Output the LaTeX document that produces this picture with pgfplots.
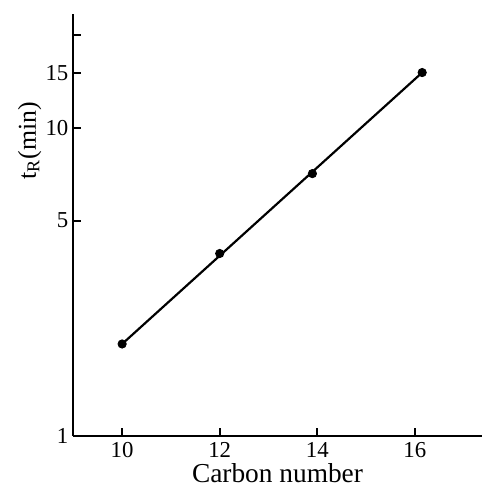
\documentclass[border=0pt]{standalone}
\usepackage{pgfplots}
\pgfplotsset{compat=1.18}
\usepackage{fontspec}
\setmainfont{Liberation Serif}
\begin{document}
\fontsize{11.5}{13}\selectfont
\begin{tikzpicture}
\begin{axis}[
  name=ax,
  scale only axis,
  width=206pt, height=213pt,
  ymode=log,
  xmin=9, xmax=17.37,
  ymin=1, ymax=23.4,
  axis x line*=bottom,
  axis y line*=left,
  axis line style={-, line width=1.1pt},
  xtick={10,12,14,16},
  ytick={1,5,10,15,20},
  yticklabels={1,5,10,15,},
  minor ytick={},
  log ticks with fixed point,
  every tick/.style={black, line width=1pt},
  major tick length=4pt,
  xtick align=inside, ytick align=inside,
  /pgf/number format/assume math mode=true,
  ticklabel style={font=\fontsize{11.5}{13}\selectfont},
  xticklabel style={yshift=1pt},
  yticklabel style={xshift=1.5pt},
  xlabel={Carbon number},
  ylabel={t\textsubscript{R}(min)},
  xlabel style={font=\fontsize{13.8}{15}\selectfont, at={(axis description cs:0.5,0)}, anchor=center, yshift=-18.5pt},
  ylabel style={font=\fontsize{13}{15}\selectfont, at={(axis description cs:-0.107,0.70)}, anchor=center},
  clip=false,
]
\addplot[black, line width=1.1pt, no marks] coordinates {(10,1.99) (16.15,15.1)};
\addplot[only marks, mark=*, mark size=2.1pt, black] coordinates {
(10,1.99) (12,3.91) (13.9,7.1) (16.15,15.1)};
\end{axis}
\path (ax.south west) ++(-37pt,-25pt) (ax.north east) ++(0,7pt);
\end{tikzpicture}
\end{document}
